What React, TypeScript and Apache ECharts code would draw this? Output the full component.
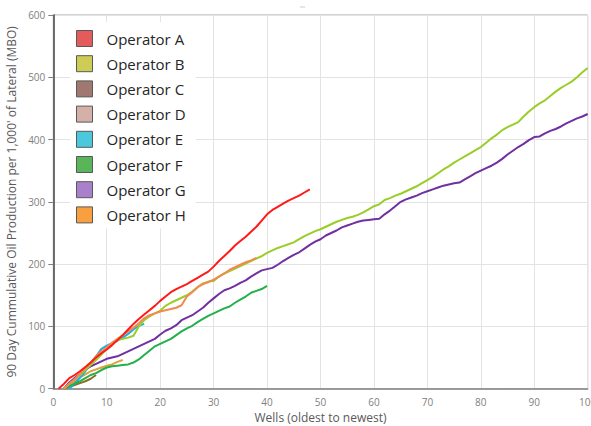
import React, { useEffect, useRef } from "react";
import * as echarts from "echarts";

const operatorNames = ["Operator A", "Operator B", "Operator C", "Operator D", "Operator E", "Operator F", "Operator G", "Operator H"];
const iconColors = ["#e35b5b", "#cdcd55", "#a07870", "#d4b0a8", "#4ac8dc", "#5ab55a", "#a880cc", "#f8a040"];
const lineColors = ["#ff1a1a", "#9acd28", "#8c6c28", "#e0a040", "#1ab0e8", "#22b04a", "#7030a0", "#f28a50"];

const startA = 1;
const valuesA = [0, 8, 17, 22, 28, 35, 42, 50, 57, 63, 70, 78, 86, 95, 104, 112, 119, 126, 133, 141, 148, 155, 160, 164, 168, 173, 178, 183, 188, 196, 205, 213, 221, 230, 237, 244, 252, 260, 270, 280, 287, 292, 297, 302, 306, 310, 315, 320];
const startB = 2;
const valuesB = [0, 8, 15, 22, 30, 38, 46, 55, 64, 72, 78, 80, 82, 85, 100, 110, 116, 121, 125, 133, 138, 142, 146, 150, 156, 163, 169, 172, 173, 180, 185, 189, 193, 197, 201, 205, 209, 213, 218, 222, 226, 229, 232, 235, 240, 245, 249, 253, 256, 260, 264, 268, 271, 274, 276, 279, 283, 288, 293, 296, 303, 306, 310, 313, 317, 321, 325, 330, 335, 340, 346, 352, 357, 363, 368, 373, 378, 383, 388, 395, 402, 408, 415, 420, 424, 428, 437, 445, 452, 458, 463, 470, 477, 483, 488, 493, 500, 508, 515];
const startC = 2;
const valuesC = [0, 3, 6, 9, 12, 16, 22];
const startD = 2;
const valuesD = [0, 5, 11, 18, 23, 28, 31, 34, 37, 39, 43, 46];
const startE = 3;
const valuesE = [0, 8, 18, 28, 40, 52, 64, 69, 73, 77, 82, 88, 95, 101, 104];
const startF = 2;
const valuesF = [0, 4, 8, 12, 17, 22, 25, 30, 34, 36, 37, 38, 39, 42, 47, 54, 61, 68, 72, 76, 80, 86, 92, 97, 101, 107, 112, 117, 121, 125, 129, 132, 138, 143, 148, 154, 157, 160, 165];
const startG = 2;
const valuesG = [0, 10, 17, 24, 31, 36, 40, 44, 48, 50, 52, 56, 60, 64, 68, 72, 76, 80, 87, 93, 97, 102, 110, 114, 118, 124, 130, 138, 145, 152, 158, 161, 165, 170, 174, 180, 185, 190, 192, 194, 199, 205, 210, 215, 219, 225, 231, 236, 240, 246, 250, 254, 259, 262, 265, 268, 270, 271, 272, 273, 280, 286, 293, 300, 304, 307, 310, 314, 317, 320, 323, 326, 328, 330, 331, 336, 341, 346, 350, 354, 358, 363, 369, 376, 382, 388, 393, 399, 404, 405, 410, 414, 417, 421, 426, 430, 434, 437, 441];
const startH = 2;
const valuesH = [0, 8, 15, 24, 33, 42, 52, 60, 66, 74, 80, 86, 92, 98, 105, 113, 118, 121, 124, 126, 128, 130, 134, 148, 155, 163, 168, 171, 175, 180, 185, 191, 195, 199, 203, 206, 210];

const starts = [startA, startB, startC, startD, startE, startF, startG, startH];
const seriesValues = [valuesA, valuesB, valuesC, valuesD, valuesE, valuesF, valuesG, valuesH];
// draw order: later entries on top
const drawOrder = [2, 3, 4, 5, 6, 1, 7, 0];

const xTicks = [0, 10, 20, 30, 40, 50, 60, 70, 80, 90, 100];
const yTicks = [0, 100, 200, 300, 400, 500, 600];

export default function App() {
  const ref = useRef<HTMLDivElement>(null);
  useEffect(() => {
    if (!ref.current) return;
    const chart = echarts.init(ref.current, null, { renderer: "svg" });
    const font = "'Open Sans', 'Noto Sans', sans-serif";
    const series = drawOrder.map((i) => ({
      name: operatorNames[i],
      type: "line",
      data: seriesValues[i].map((v, k) => [starts[i] + k, v]),
      showSymbol: false,
      symbol: "none",
      smooth: false,
      lineStyle: { color: lineColors[i], width: 2 },
      itemStyle: { color: iconColors[i] },
      z: 3,
    }));
    chart.setOption({
      animation: false,
      textStyle: { fontFamily: font },
      grid: {
        left: 53.3,
        right: 3.3,
        top: 15,
        bottom: 37.3,
        containLabel: false,
        outerBoundsMode: "none",
        show: true,
        borderColor: "#a6a6a6",
        borderWidth: 1,
        backgroundColor: "transparent",
      },
      legend: {
        orient: "vertical",
        left: 70,
        top: 22,
        padding: [8, 10, 5, 6],
        backgroundColor: "#ffffff",
        itemWidth: 16,
        itemHeight: 16,
        itemGap: 8.2,
        icon: "rect",
        selectedMode: false,
        textStyle: { fontSize: 15, color: "#262626", fontFamily: font, padding: [0, 0, 0, 9] },
        data: operatorNames.map((n, i) => ({
          name: n,
          icon: "rect",
          itemStyle: { color: iconColors[i], borderColor: "#595959", borderWidth: 1 },
        })),
        z: 10,
      },
      xAxis: {
        type: "value",
        min: xTicks[0],
        max: xTicks[xTicks.length - 1],
        interval: 10,
        name: "Wells (oldest to newest)",
        nameLocation: "middle",
        nameGap: 23,
        nameTextStyle: { fontSize: 12, color: "#595959", fontFamily: font },
        axisLine: { show: true, lineStyle: { color: "#7f7f7f", width: 1.5 } },
        axisTick: { show: false },
        axisLabel: { fontSize: 10, color: "#808080", margin: 8, fontFamily: font },
        splitLine: { show: true, lineStyle: { color: "#e3e3e3", width: 1 } },
      },
      yAxis: {
        type: "value",
        min: yTicks[0],
        max: yTicks[yTicks.length - 1],
        interval: 100,
        name: "90 Day Cummulative Oil Production per 1,000' of Lateral (MBO)",
        nameLocation: "middle",
        nameGap: 29,
        nameTextStyle: { fontSize: 12, color: "#595959", fontFamily: font },
        axisLine: { show: true, lineStyle: { color: "#404040", width: 1.5 } },
        axisTick: { show: true, length: 5, lineStyle: { color: "#808080" } },
        axisLabel: { fontSize: 10, color: "#808080", margin: 8, fontFamily: font },
        splitLine: { show: true, lineStyle: { color: "#e3e3e3", width: 1 } },
      },
      graphic: [
        { type: "line", shape: { x1: 300, y1: 7, x2: 305, y2: 7 }, style: { stroke: "#cccccc", lineWidth: 1 } },
      ],
      series,
    });
    return () => chart.dispose();
  }, []);
  return <div ref={ref} style={{ position: "absolute", left: 0, top: 0, width: 591, height: 426 }} />;
}
